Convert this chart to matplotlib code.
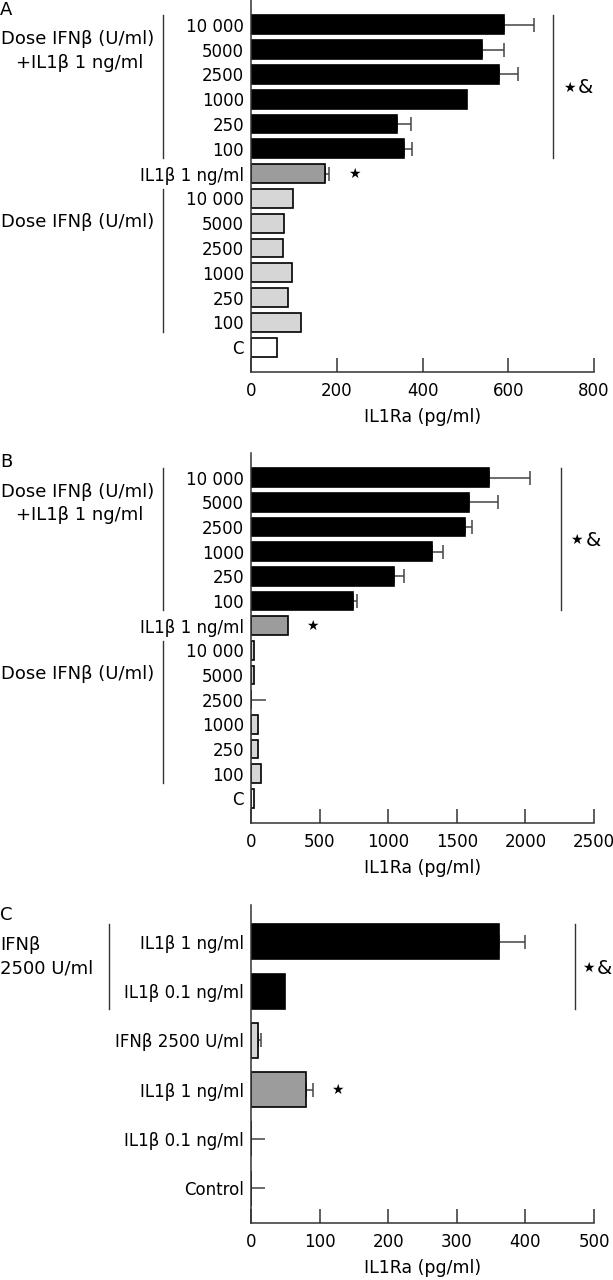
import numpy as np
import matplotlib
matplotlib.use('Agg')
import matplotlib.pyplot as plt
from matplotlib.transforms import blended_transform_factory

plt.rcParams['font.family'] = ['DejaVu Sans']
plt.rcParams['font.size'] = 12

BLACK = '#000000'
DARK = '#9c9c9c'
LIGHT = '#d6d6d6'
WHITE = '#ffffff'

# Panel A
labels_a = ['10 000', '5000', '2500', '1000', '250', '100', 'IL1\u03b2 1 ng/ml',
            '10 000', '5000', '2500', '1000', '250', '100', 'C']
values_a = [591, 539, 578, 503, 341, 357, 172, 97, 77, 75, 95, 87, 116, 60]
errors_a = [69, 51, 44, 0, 33, 19, 11, 0, 0, 0, 0, 0, 0, 0]

# Panel B
labels_b = labels_a
values_b = [1732, 1588, 1557, 1322, 1041, 740, 272, 23, 23, 0, 49, 49, 75, 23]
errors_b = [304, 210, 57, 77, 71, 34, 0, 0, 0, 106, 0, 0, 0, 0]

colors_ab = [BLACK] * 6 + [DARK] + [LIGHT] * 6 + [WHITE]

# Panel C
labels_c = ['IL1\u03b2 1 ng/ml', 'IL1\u03b2 0.1 ng/ml', 'IFN\u03b2 2500 U/ml',
            'IL1\u03b2 1 ng/ml', 'IL1\u03b2 0.1 ng/ml', 'Control']
values_c = [361, 50, 10, 80, 0, 0]
errors_c = [39, 0, 4, 10, 21, 21]
colors_c = [BLACK, BLACK, LIGHT, DARK, WHITE, WHITE]

W, H = 613, 1280
fig = plt.figure(figsize=(W / 100, H / 100), dpi=100)


def px_axes(top, bottom, left=251, right=594):
    return fig.add_axes([left / W, 1 - bottom / H, (right - left) / W, (bottom - top) / H])


def draw_bars(ax, labels, values, errors, colors, height, xmax, xstep, ylim):
    y = np.arange(len(values))
    ax.barh(y, values, height=height, color=colors, edgecolor='black', linewidth=1.2, zorder=2)
    for yi, v, e in zip(y, values, errors):
        if e <= 0:
            continue
        cap = 0 if v == 0 else 4.7
        ax.errorbar(v, yi, xerr=[[0], [e]], fmt='none', ecolor='#444444',
                    elinewidth=1.1, capsize=cap, capthick=1.1, zorder=1)
    ax.set_yticks(y)
    ax.set_yticklabels(labels)
    ax.set_ylim(*ylim)
    ax.set_xlim(0, xmax)
    ax.set_xticks(np.arange(0, xmax + 1, xstep))
    ax.spines['top'].set_visible(False)
    ax.spines['right'].set_visible(False)
    for s in ('left', 'bottom'):
        ax.spines[s].set_linewidth(1.1)
        ax.spines[s].set_color('#333333')
    ax.tick_params(axis='x', direction='in', length=10, width=1.1, color='#333333', pad=7)
    ax.tick_params(axis='y', length=0, pad=5)
    ax.set_xlabel('IL1Ra (pg/ml)', labelpad=6, fontsize=12.5)


def vline(ax, x, y0, y1, axes_x=False):
    if axes_x:
        tr = blended_transform_factory(ax.transAxes, ax.transData)
    else:
        tr = ax.transData
    ax.plot([x, x], [y0, y1], color='#333333', lw=1.0, transform=tr, clip_on=False)


def star_amp(ax, x, y):
    ax.text(x, y, '\u2605', fontsize=10, ha='left', va='center', clip_on=False)
    ax.text(x + (ax.get_xlim()[1] * 0.045), y, '&', fontsize=14, ha='left', va='center',
            clip_on=False)


def frac(ax, px):
    # figure pixel x -> axes fraction
    return (px - 251) / (594 - 251)


GROUP_FS = 13

# ---- Panel A ----
ax1 = px_axes(0, 372)
draw_bars(ax1, labels_a, values_a, errors_a, colors_ab, 0.76, 800, 200, (14, -1))
vline(ax1, frac(ax1, 163), -0.38, 5.38, axes_x=True)
vline(ax1, frac(ax1, 163), 6.62, 12.38, axes_x=True)
vline(ax1, 705, -0.38, 5.38)
star_amp(ax1, 727, 2.53)
ax1.text(241, 6, '\u2605', fontsize=10, ha='center', va='center')
tr1 = blended_transform_factory(ax1.transAxes, ax1.transData)
ax1.text(frac(ax1, 78), 0.56, 'Dose IFN\u03b2 (U/ml)', ha='center', va='center',
         transform=tr1, fontsize=GROUP_FS)
ax1.text(frac(ax1, 80), 1.53, '+IL1\u03b2 1 ng/ml', ha='center', va='center',
         transform=tr1, fontsize=GROUP_FS)
ax1.text(frac(ax1, 78), 7.97, 'Dose IFN\u03b2 (U/ml)', ha='center', va='center',
         transform=tr1, fontsize=GROUP_FS)
fig.text(0, 1 - 10 / H, 'A', ha='left', va='center', fontsize=13)

# ---- Panel B ----
ax2 = px_axes(453, 823)
draw_bars(ax2, labels_b, values_b, errors_b, colors_ab, 0.76, 2500, 500, (14, -1))
vline(ax2, frac(ax2, 163), -0.38, 5.38, axes_x=True)
vline(ax2, frac(ax2, 163), 6.62, 12.38, axes_x=True)
vline(ax2, 2256, -0.38, 5.38)
star_amp(ax2, 2325, 2.54)
ax2.text(450, 6, '\u2605', fontsize=10, ha='center', va='center')
tr2 = blended_transform_factory(ax2.transAxes, ax2.transData)
ax2.text(frac(ax2, 78), 0.6, 'Dose IFN\u03b2 (U/ml)', ha='center', va='center',
         transform=tr2, fontsize=GROUP_FS)
ax2.text(frac(ax2, 80), 1.53, '+IL1\u03b2 1 ng/ml', ha='center', va='center',
         transform=tr2, fontsize=GROUP_FS)
ax2.text(frac(ax2, 78), 7.97, 'Dose IFN\u03b2 (U/ml)', ha='center', va='center',
         transform=tr2, fontsize=GROUP_FS)
fig.text(0, 1 - 462 / H, 'B', ha='left', va='center', fontsize=13)

# ---- Panel C ----
ax3 = px_axes(905, 1223)
draw_bars(ax3, labels_c, values_c, errors_c, colors_c, 0.71, 500, 100, (5.71, -0.75))
vline(ax3, frac(ax3, 109), -0.36, 1.36, axes_x=True)
vline(ax3, 473, -0.36, 1.36)
star_amp(ax3, 482, 0.53)
ax3.text(126, 3, '\u2605', fontsize=10, ha='center', va='center')
tr3 = blended_transform_factory(ax3.transAxes, ax3.transData)
ax3.text(frac(ax3, 0), 0.06, 'IFN\u03b2', ha='left', va='center', transform=tr3,
         fontsize=GROUP_FS)
ax3.text(frac(ax3, 0), 0.53, '2500 U/ml', ha='left', va='center', transform=tr3,
         fontsize=GROUP_FS)
fig.text(0, 1 - 915 / H, 'C', ha='left', va='center', fontsize=13)

fig.savefig('out.png', dpi=100)
